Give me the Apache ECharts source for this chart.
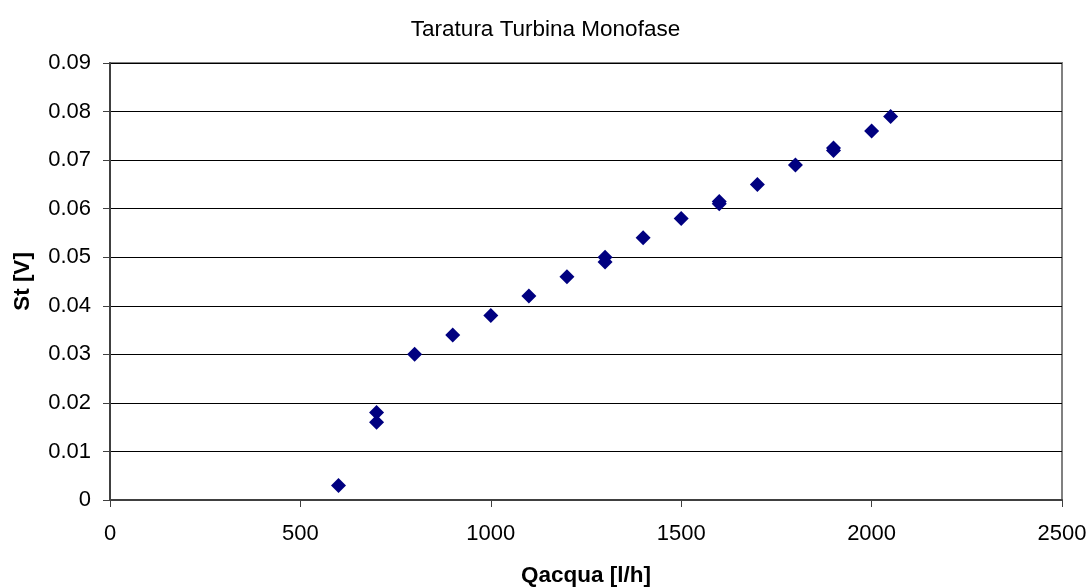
<!DOCTYPE html>
<html>
<head>
<meta charset="utf-8">
<script src="https://cdn.jsdelivr.net/npm/echarts@6/dist/echarts.min.js"></script>
<style>
  html, body { margin: 0; padding: 0; background: #fff; }
  #chart { width: 1091px; height: 587px; }
</style>
</head>
<body>
<div id="chart"></div>
<script>
// Flow rate Qacqua [l/h] and measured signal St [V]
const qacqua = [600, 700, 700, 800, 900, 1000, 1100, 1200, 1300, 1300, 1400, 1500, 1600, 1600, 1700, 1800, 1900, 1900, 2000, 2050];
const st     = [0.003, 0.016, 0.018, 0.030, 0.034, 0.038, 0.042, 0.046, 0.049, 0.050, 0.054, 0.058, 0.061, 0.0615, 0.065, 0.069, 0.072, 0.0725, 0.076, 0.079];

const points = qacqua.map((q, i) => [q, st[i]]);

const font = 'Liberation Sans, Arial, sans-serif';
const chart = echarts.init(document.getElementById('chart'), null, { renderer: 'canvas' });

chart.setOption({
  animation: false,
  backgroundColor: '#ffffff',
  title: {
    text: 'Taratura Turbina Monofase',
    left: 'center',
    top: 13,
    textStyle: { fontFamily: font, fontSize: 22.5, fontWeight: 'normal', color: '#000' }
  },
  grid: {
    left: 110, right: 29, top: 63, bottom: 87,
    outerBoundsMode: 'none',
    containLabel: false,
    show: true, borderColor: '#808080', borderWidth: 2, backgroundColor: '#fff'
  },
  xAxis: {
    type: 'value',
    min: 0, max: 2500, interval: 500,
    name: 'Qacqua [l/h]',
    nameLocation: 'middle',
    nameGap: 64,
    nameTextStyle: { fontFamily: font, fontSize: 22.5, fontWeight: 'bold', color: '#000' },
    axisLine: { show: true, onZero: false, lineStyle: { color: '#404040', width: 2 } },
    axisTick: { show: true, inside: false, length: 7, lineStyle: { color: '#404040', width: 1 } },
    axisLabel: {
      margin: 23, fontFamily: font, fontSize: 22, color: '#000',
      formatter: v => String(v)
    },
    splitLine: { show: false }
  },
  yAxis: {
    type: 'value',
    min: 0, max: 0.09, interval: 0.01,
    name: 'St [V]',
    nameLocation: 'middle',
    nameGap: 76,
    nameTextStyle: { fontFamily: font, fontSize: 22.5, fontWeight: 'bold', color: '#000' },
    axisLine: { show: true, onZero: false, lineStyle: { color: '#404040', width: 2 } },
    axisTick: { show: true, inside: false, length: 7, lineStyle: { color: '#404040', width: 1 } },
    axisLabel: {
      margin: 19, fontFamily: font, fontSize: 22, color: '#000',
      formatter: v => (Math.abs(v) < 1e-9 ? '0' : v.toFixed(2))
    },
    splitLine: { show: true, lineStyle: { color: '#000', width: 1 } }
  },
  series: [{
    type: 'scatter',
    data: points,
    symbol: 'diamond',
    symbolSize: [15, 15],
    itemStyle: { color: '#000080', opacity: 1 }
  }]
});
</script>
</body>
</html>
